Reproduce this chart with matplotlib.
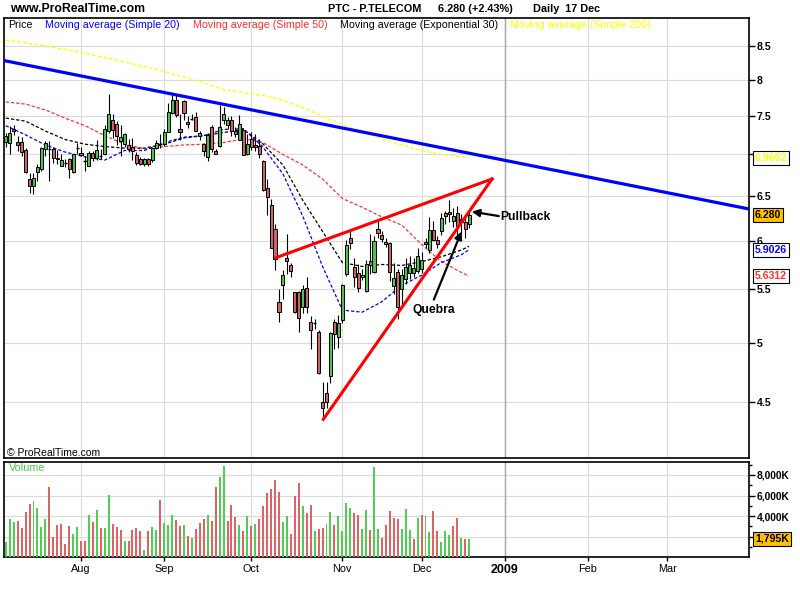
import numpy as np
import pandas as pd
import matplotlib
matplotlib.use("Agg")
import matplotlib.pyplot as plt
from matplotlib.patches import Rectangle
from matplotlib.ticker import NullLocator

plt.rcParams['font.family'] = ['Liberation Sans', 'DejaVu Sans']

# ---------------- data ----------------
dates = pd.bdate_range("2008-07-07", "2008-12-17")          # 118 sessions
holidays = pd.to_datetime(["2008-12-25", "2008-12-26", "2009-01-01"])

opens = [7.16, 7.15, 7.33, 7.16, 7.16, 7.06, 6.70, 6.62, 6.78, 6.82,
         7.07, 7.07, 7.07, 6.96, 6.86, 6.90, 6.94, 6.78, 7.08, 7.02,
         6.93, 6.86, 7.02, 6.96, 6.99, 7.01, 7.30, 7.44, 7.39, 7.17,
         7.13, 7.12, 7.10, 6.99, 6.94, 6.88, 6.94, 6.93, 7.08, 7.14,
         7.13, 7.29, 7.54, 7.72, 7.32, 7.70, 7.42, 7.46, 7.48, 7.23,
         7.13, 6.97, 7.35, 7.05, 7.11, 7.44, 7.38, 7.44, 7.30, 7.19,
         7.31, 7.00, 7.20, 7.12, 7.11, 6.92, 6.59, 6.40, 6.13, 5.38,
         5.54, 5.82, 5.74, 5.47, 5.47, 5.33, 5.51, 5.19, 5.17, 5.10,
         4.50, 4.57, 4.71, 5.19, 5.05, 5.21, 5.65, 6.03, 5.72, 5.66,
         5.62, 5.48, 5.79, 5.67, 6.13, 6.06, 5.96, 5.97, 5.53, 5.67,
         5.50, 5.60, 5.66, 5.66, 5.68, 5.70, 5.99, 5.90, 6.12, 6.01,
         6.10, 6.30, 6.32, 6.22, 6.30, 6.24, 6.20, 6.18]
highs = [7.28, 7.36, 7.38, 7.24, 7.22, 7.08, 6.77, 6.77, 6.88, 7.10,
         7.17, 7.17, 7.10, 7.06, 7.00, 6.94, 6.95, 7.01, 7.15, 7.09,
         6.98, 7.05, 7.05, 7.19, 7.07, 7.38, 7.80, 7.52, 7.43, 7.38,
         7.27, 7.20, 7.21, 7.03, 6.97, 6.96, 6.96, 7.10, 7.19, 7.26,
         7.32, 7.67, 7.78, 7.79, 7.52, 7.72, 7.50, 7.53, 7.55, 7.30,
         7.14, 7.27, 7.38, 7.07, 7.65, 7.62, 7.49, 7.50, 7.35, 7.51,
         7.34, 7.26, 7.29, 7.26, 7.20, 6.93, 6.70, 6.47, 6.18, 5.50,
         5.69, 6.07, 5.77, 5.47, 5.48, 5.54, 5.62, 5.24, 5.22, 5.11,
         4.66, 4.66, 5.10, 5.22, 5.25, 5.55, 6.01, 6.10, 5.82, 5.76,
         5.70, 5.80, 6.07, 6.05, 6.22, 6.10, 6.03, 5.99, 5.77, 5.70,
         5.70, 5.82, 5.84, 5.82, 5.92, 5.88, 6.03, 6.26, 6.22, 6.05,
         6.30, 6.33, 6.45, 6.36, 6.38, 6.29, 6.25, 6.33]
lows = [7.10, 7.00, 7.25, 7.05, 6.98, 6.77, 6.53, 6.52, 6.68, 6.80,
        6.98, 6.68, 6.90, 6.88, 6.86, 6.85, 6.71, 6.77, 7.00, 6.98,
        6.80, 6.86, 6.92, 6.93, 6.94, 6.99, 7.28, 7.21, 7.12, 6.98,
        7.10, 7.03, 6.93, 6.87, 6.87, 6.86, 6.86, 6.91, 7.07, 7.08,
        7.11, 7.29, 7.52, 7.49, 7.19, 7.45, 7.34, 7.44, 7.30, 7.19,
        6.98, 6.92, 7.03, 7.00, 7.09, 7.39, 7.33, 7.24, 7.22, 7.18,
        6.99, 6.99, 7.06, 7.05, 6.95, 6.56, 6.28, 5.92, 5.69, 5.19,
        5.41, 5.65, 5.62, 5.27, 5.10, 5.27, 5.27, 4.94, 5.12, 4.73,
        4.37, 4.45, 4.65, 4.94, 4.95, 5.18, 5.63, 5.91, 5.52, 5.47,
        5.59, 5.47, 5.65, 5.66, 6.03, 5.99, 5.93, 5.58, 5.45, 5.22,
        5.36, 5.55, 5.60, 5.62, 5.66, 5.66, 5.92, 5.87, 6.00, 5.92,
        6.06, 6.18, 6.20, 6.15, 6.05, 6.07, 6.03, 6.14]
closes = [7.24, 7.28, 7.30, 7.12, 7.03, 6.78, 6.62, 6.71, 6.84, 7.08,
          7.14, 7.06, 6.95, 6.94, 6.93, 6.89, 6.82, 7.00, 7.09, 6.99,
          6.92, 7.02, 6.96, 7.06, 6.98, 7.32, 7.52, 7.31, 7.24, 7.22,
          7.26, 7.07, 7.05, 6.90, 6.88, 6.94, 6.88, 7.08, 7.15, 7.13,
          7.29, 7.55, 7.72, 7.51, 7.29, 7.54, 7.39, 7.47, 7.30, 7.27,
          7.05, 7.25, 7.07, 7.01, 7.35, 7.52, 7.45, 7.30, 7.26, 7.39,
          6.99, 7.13, 7.09, 7.10, 7.01, 6.57, 6.49, 5.92, 5.81, 5.28,
          5.64, 5.79, 5.68, 5.28, 5.23, 5.50, 5.33, 5.11, 5.18, 4.74,
          4.45, 4.50, 5.09, 5.08, 5.18, 5.54, 5.95, 5.97, 5.62, 5.51,
          5.64, 5.76, 5.74, 6.00, 6.08, 6.02, 5.99, 5.67, 5.61, 5.33,
          5.64, 5.72, 5.74, 5.71, 5.84, 5.80, 5.96, 6.12, 6.01, 5.96,
          6.25, 6.27, 6.29, 6.27, 6.16, 6.20, 6.13, 6.28]
volume_k = [1490, 3730, 3470, 3530, 2850, 4410, 5180, 5480, 4800, 2950,
            3730, 6870, 1980, 3140, 3270, 1300, 3050, 2270, 2950, 1590,
            1590, 4120, 3430, 4600, 2850, 2850, 6060, 3240, 2980, 2660,
            1590, 1590, 2660, 2850, 2560, 710, 2560, 2950, 2660, 5570,
            3340, 3140, 4120, 3630, 3050, 3140, 2070, 1880, 2750, 3340,
            3730, 4120, 3530, 6840, 7810, 8880, 3530, 5090, 3920, 3140,
            2560, 4020, 3050, 3240, 3730, 5000, 6250, 6640, 7520, 6350,
            3430, 4020, 2270, 5960, 7220, 5020, 4340, 5090, 2560, 2750,
            2850, 3240, 4410, 3140, 4020, 2560, 5280, 4800, 4340, 4150,
            2750, 4600, 2660, 8780, 2750, 1880, 3140, 4470, 3790, 3690,
            2750, 4700, 2660, 1780, 3820, 4110, 4020, 2460, 4500, 2560,
            1490, 2560, 2170, 3050, 3820, 1880, 1780, 1795]

# moving averages read at sample sessions
ma_pos = [0, 5, 10, 15, 20, 25, 30, 35, 40, 45, 50, 55, 60, 65, 70, 75,
          80, 85, 90, 95, 100, 105, 110, 115, 117]
sma20 = [7.37, 7.25, 7.12, 7.03, 6.97, 6.93, 7.05, 7.05, 7.15, 7.22, 7.24,
         7.32, 7.33, 7.09, 6.76, 6.27, 5.73, 5.30, 5.28, 5.38, 5.54, 5.64,
         5.77, 5.85, 5.9026]
ema30 = [7.47, 7.43, 7.30, 7.19, 7.13, 7.10, 7.08, 7.08, 7.13, 7.21, 7.24,
         7.28, 7.32, 7.13, 6.87, 6.45, 6.10, 5.77, 5.73, 5.75, 5.74, 5.78,
         5.83, 5.90, 5.94]
sma50 = [7.69, 7.66, 7.58, 7.47, 7.37, 7.24, 7.13, 7.07, 7.10, 7.12, 7.13,
         7.15, 7.20, 7.15, 7.00, 6.87, 6.70, 6.47, 6.37, 6.26, 6.17, 5.96,
         5.78, 5.67, 5.6312]
sma200_pos = [0, 10, 20, 30, 40, 50, 55, 60, 65, 70, 75, 80, 85, 90, 95,
              100, 105, 110, 115, 117]
sma200 = [8.59, 8.50, 8.39, 8.26, 8.12, 7.96, 7.86, 7.82, 7.78, 7.71, 7.61,
          7.50, 7.38, 7.29, 7.20, 7.12, 7.05, 7.00, 6.97, 6.9602]

# hand-drawn trend lines (session index, price)
trend_blue_x, trend_blue_y = [-0.45, 187.7], [8.28, 6.35]
wedge_up_x, wedge_up_y = [68.2, 122.8], [5.82, 6.70]
wedge_lo_x, wedge_lo_y = [80.2, 122.8], [4.36, 6.70]

month_labels = ['Aug', 'Sep', 'Oct', 'Nov', 'Dec', '2009', 'Feb', 'Mar']
price_ticks = [4.5, 5, 5.5, 6, 6.5, 7, 7.5, 8, 8.5]
price_tick_labels = ['4.5', '5', '5.5', '6', '6.5', '', '7.5', '8', '8.5']
vol_ticks = [2000, 4000, 6000, 8000]
vol_tick_labels = ['', '4,000K', '6,000K', '8,000K']

# ---------------- layout helpers ----------------
W, H = 800, 600
def fx(px): return px / W
def fy(py): return 1 - py / H

GREEN_C, RED_C = '#4cc34c', '#cc6464'
GREEN_V, RED_V = '#52cc52', '#dc6464'
GRID = '#dadada'

sessions = pd.bdate_range("2008-07-07", "2009-03-31")
sessions = sessions[~sessions.isin(holidays)]
ss = pd.Series(sessions)
firsts = ss.groupby(ss.dt.to_period('M')).first()
month_pos = [int(sessions.get_loc(d)) for d in firsts.iloc[1:]]

x = np.arange(len(dates))
o, h, l, c = map(np.array, (opens, highs, lows, closes))

fig = plt.figure(figsize=(8, 6), dpi=100, facecolor='white')
ax = fig.add_axes([fx(4), fy(458.3), (749 - 4) / W, (458.3 - 18.3) / H])
axv = fig.add_axes([fx(4), fy(557.3), (749 - 4) / W, (557.3 - 461.7) / H], sharex=ax)

# ---------------- price panel ----------------
ax.set_yscale('log')
ax.set_ylim(4.066, 8.93)
ax.set_xlim(-0.45, 187.7)
ax.set_yticks(price_ticks, price_tick_labels, fontsize=7.6, fontweight='bold')
ax.yaxis.set_minor_locator(NullLocator())
ax.yaxis.tick_right()
ax.tick_params(axis='y', direction='out', length=4, width=1, pad=1.5)
ax.tick_params(axis='x', which='both', length=0, labelbottom=False)
ax.grid(True, color=GRID, lw=0.8)
ax.set_axisbelow(True)

for a in (ax, axv):
    for s in a.spines.values():
        s.set_linewidth(1.2)
        s.set_color('black')

ax.axvline(month_pos[5], color='#a4a4a4', lw=1.0, zorder=1)

# moving averages
dash = (0, (2.6, 1.6))
ax.plot(sma200_pos, sma200, color='#ffff00', lw=1.0, ls=dash, zorder=2)
ax.plot(ma_pos, sma50, color='#ff3030', lw=0.9, ls=dash, zorder=2)
ax.plot(ma_pos, ema30, color='black', lw=0.9, ls=dash, zorder=2)
ax.plot(ma_pos, sma20, color='#0000ff', lw=0.9, ls=dash, zorder=2)

# candles
ax.vlines(x, l, h, color='black', lw=0.8, zorder=3)
bw = 0.78
for xi, oi, ci in zip(x, o, c):
    lo, hi = min(oi, ci), max(oi, ci)
    if hi - lo < 0.012:
        ax.hlines((oi + ci) / 2, xi - bw / 2, xi + bw / 2, color='black', lw=1.0, zorder=4)
    else:
        ax.add_patch(Rectangle((xi - bw / 2, lo), bw, hi - lo,
                               fc=GREEN_C if ci > oi else RED_C,
                               ec='black', lw=0.7, zorder=4))

# trend lines
ax.plot(trend_blue_x, trend_blue_y, color='#0000ff', lw=2.3, zorder=5,
        solid_capstyle='butt')
ax.plot(wedge_up_x, wedge_up_y, color='#ff0000', lw=2.2, zorder=5)
ax.plot(wedge_lo_x, wedge_lo_y, color='#ff0000', lw=2.2, zorder=5)

# annotations
ax.annotate('', xy=(117.7, 6.32), xytext=(124.5, 6.27),
            arrowprops=dict(arrowstyle='-|>', color='black', lw=1.6,
                            mutation_scale=11, shrinkA=0, shrinkB=0), zorder=6)
ax.text(124.9, 6.26, 'Pullback', fontsize=8.7, fontweight='bold',
        ha='left', va='center', zorder=6)
ax.annotate('', xy=(115.1, 6.10), xytext=(108.1, 5.40),
            arrowprops=dict(arrowstyle='-|>', color='black', lw=1.6,
                            mutation_scale=11, shrinkA=0, shrinkB=0), zorder=6)
ax.text(108.1, 5.30, 'Quebra', fontsize=8.7, fontweight='bold',
        ha='center', va='center', zorder=6)

ax.text(0.004, 0.013, '\u00a9 ProRealTime.com', transform=ax.transAxes,
        fontsize=7.5, ha='left', va='center')

def side_label(a, val, txt, color, fc):
    a.annotate(txt, xy=(1, val), xycoords=('axes fraction', 'data'),
               xytext=(4.3, 0), textcoords='offset points', ha='left',
               va='center', fontsize=7.6, fontweight='bold', color=color,
               bbox=dict(boxstyle='square,pad=0.2', fc=fc, ec='black', lw=0.8),
               annotation_clip=False, zorder=10)

side_label(ax, sma200[-1], f"{sma200[-1]:.4f}", '#ffff00', 'white')
side_label(ax, closes[-1], f"{closes[-1]:.3f}", 'black', '#ffc000')
side_label(ax, sma20[-1], f"{sma20[-1]:.4f}", '#0000ff', 'white')
side_label(ax, sma50[-1], f"{sma50[-1]:.4f}", '#ff3030', 'white')

# ---------------- volume panel ----------------
vol = np.array(volume_k, dtype=float)
vup = np.r_[c[0] >= o[0], c[1:] >= c[:-1]]
axv.bar(x, vol, width=0.5, color=np.where(vup, GREEN_V, RED_V), zorder=3)
axv.set_ylim(0, 9290)
axv.set_yticks(vol_ticks, vol_tick_labels, fontsize=7.4, fontweight='bold')
axv.set_yticks([1000, 3000, 5000, 7000, 9000], minor=True)
axv.yaxis.tick_right()
axv.tick_params(axis='y', which='major', direction='out', length=4, width=1, pad=1.5)
axv.tick_params(axis='y', which='minor', direction='out', length=2.5, width=1)
axv.set_xticks(month_pos, month_labels, fontsize=7.8)
axv.tick_params(axis='x', direction='out', length=3, width=1, pad=2)
xl = axv.get_xticklabels()
xl[5].set_fontweight('bold')
xl[5].set_fontsize(9)
axv.grid(True, which='major', color=GRID, lw=0.8)
axv.set_axisbelow(True)
axv.axvline(month_pos[5], color='#a4a4a4', lw=1.0, zorder=1)
axv.text(0.006, 0.93, 'Volume', transform=axv.transAxes, color='#44cc44',
         fontsize=7.8, ha='left', va='center')
side_label(axv, volume_k[-1], f"{volume_k[-1]:,}K", 'black', '#ffc000')

# ---------------- header texts ----------------
fig.text(fx(10), fy(8.5), 'www.ProRealTime.com', fontsize=8.8,
         fontweight='bold', ha='left', va='center')
fig.text(fx(328), fy(8.5), 'PTC - P.TELECOM', fontsize=7.8,
         fontweight='bold', ha='left', va='center')
fig.text(fx(438), fy(8.5), '6.280 (+2.43%)', fontsize=7.8,
         fontweight='bold', ha='left', va='center')
fig.text(fx(533), fy(8.5), 'Daily  17 Dec', fontsize=7.8,
         fontweight='bold', ha='left', va='center')

legend_items = [(8, 'Price', 'black'),
                (45, 'Moving average (Simple 20)', '#0000ff'),
                (193, 'Moving average (Simple 50)', '#ff3030'),
                (340, 'Moving average (Exponential 30)', 'black'),
                (510, 'Moving average (Simple 200)', '#ffff00')]
for px, txt, col in legend_items:
    fig.text(fx(px), fy(24.5), txt, fontsize=7.7, color=col,
             ha='left', va='center')

fig.savefig('out.png', dpi=100, facecolor='white')
